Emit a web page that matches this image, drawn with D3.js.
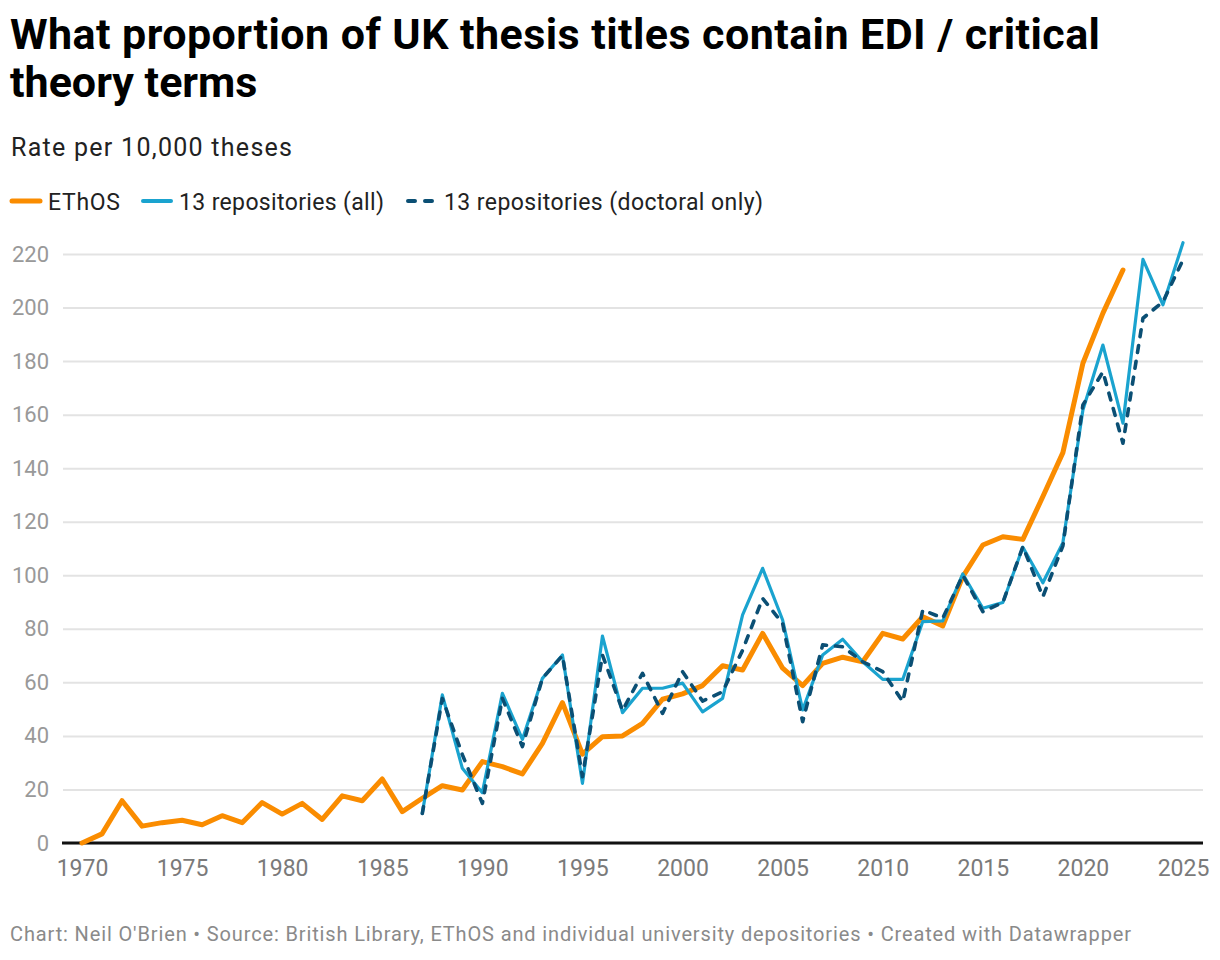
<!DOCTYPE html>
<html>
<head>
<meta charset="utf-8">
<script src="https://cdn.jsdelivr.net/npm/d3@7"></script>
<style>
  body { margin: 0; background: #fff; font-family: Roboto, "Noto Sans", sans-serif; }
  .grid line { stroke: #e3e3e3; stroke-width: 2; }
  .tick text { font-family: Roboto, sans-serif; }
  .y-axis .tick text { fill: #999; font-size: 22px; }
  .x-axis .tick text { fill: #7a7a7a; font-size: 23px; }
</style>
</head>
<body>
<div class="visHolder"></div>
<script>
var yTicks = [0, 20, 40, 60, 80, 100, 120, 140, 160, 180, 200, 220];
var xTicks = [1970, 1975, 1980, 1985, 1990, 1995, 2000, 2005, 2010, 2015, 2020, 2025];

// EThOS, 1970-2022
var ethos = [0, 3.4, 15.8, 6.3, 7.6, 8.5, 6.8, 10.2, 7.6, 15.1,
  10.8, 14.8, 8.8, 17.6, 15.8, 23.9, 11.7, 16.7, 21.4, 19.8,
  30.4, 28.5, 25.8, 37.2, 52.4, 33.2, 39.7, 40, 44.7, 53.7,
  55.7, 58.8, 66.2, 64.6, 78.3, 65.3, 58.8, 67.1, 69.4, 67.7,
  78.3, 76.2, 84.5, 81.1, 99.5, 111.3, 114.4, 113.4, 129.4, 145.8,
  179.2, 197.9, 214];
var ethosStart = 1970;

// 13 repositories, 1987-2025
var reposAll = [11.1, 55.3, 27.9, 18.8, 55.9, 38.7, 61.5, 70.2, 22.3, 77.3,
  48.7, 57.8, 57.8, 59.7, 49, 54, 85.2, 102.6, 83.3, 49.7,
  70.2, 76.1, 67.7, 61.1, 61.1, 82.7, 83, 100.5, 87.7, 89.8,
  110.5, 97.2, 112.2, 161.7, 186, 156.8, 218, 201, 224.2];
var reposDoctoral = [11, 54, 33, 14.8, 54, 36, 61.5, 70, 24.8, 70.2,
  49.5, 63.4, 48.4, 64, 53, 56.5, 72, 91.4, 82, 45.3,
  74, 73.3, 67.7, 64, 52.8, 87, 84, 100, 86.4, 89.8,
  110.7, 92, 111, 163.6, 176, 149.3, 196, 202.2, 217.8];
var reposStart = 1987;

var seriesNames = ["EThOS", "13 repositories (all)", "13 repositories (doctoral only)"];
var seriesColors = ["#fa8c00", "#1aa3cf", "#0b4f74"];

var width = 1220,
  height = 960;

var svg = d3.select(".visHolder").append("svg").attr("width", width).attr("height", height);

// stretch a text to the width it has in the original
function fitWidth(sel, w) {
  sel.each(function () {
    if (this.getComputedTextLength() < w) {
      d3.select(this).attr("textLength", w).attr("lengthAdjust", "spacing");
    }
  });
}

// header
var title = svg.append("g").attr("font-family", "Roboto, sans-serif").attr("font-weight", 700).attr("font-size", 43).attr("fill", "#000");
title.append("text").attr("x", 10).attr("y", 49).text("What proportion of UK thesis titles contain EDI / critical").call(fitWidth, 1090);
title.append("text").attr("x", 10).attr("y", 97).text("theory terms").call(fitWidth, 247);

svg.append("text").attr("x", 11).attr("y", 156).attr("font-size", 25).attr("fill", "#222")
  .text("Rate per 10,000 theses").call(fitWidth, 281);

var xScale = d3.scaleLinear().domain([1970, 2025]).range([82, 1183]);
var yScale = d3.scaleLinear().domain([0, 220]).range([843, 254]);

// legend
var legendX = [10, 141, 406];
var legendW = [72, 205, 319];
var legend = svg.selectAll(".legend-item")
  .data(seriesNames)
  .enter()
  .append("g")
  .attr("class", "legend-item")
  .attr("transform", (d, i) => "translate(" + legendX[i] + ",201)");
legend.append("line")
  .attr("x1", 2).attr("x2", 30)
  .attr("stroke", (d, i) => seriesColors[i])
  .attr("stroke-width", (d, i) => i == 0 ? 5 : 4)
  .attr("stroke-linecap", "round")
  .attr("stroke-dasharray", (d, i) => i == 2 ? "7,10" : null);
legend.append("text")
  .attr("x", 38)
  .attr("y", 9)
  .attr("font-size", 23)
  .attr("fill", "#222")
  .text(d => d)
  .each(function (d, i) { d3.select(this).call(fitWidth, legendW[i]); });

// grid + y labels
var yAxis = d3.axisLeft(yScale).tickValues(yTicks).tickSize(-(1203 - 63)).tickPadding(14);
svg.append("g")
  .attr("class", "grid y-axis")
  .attr("transform", "translate(63,0)")
  .call(yAxis)
  .call(g => g.select(".domain").remove())
  .call(g => g.selectAll(".tick text").attr("font-size", null).attr("fill", null));

// x axis labels
var xAxis = d3.axisBottom(xScale).tickValues(xTicks).tickFormat(d3.format("d")).tickSize(0).tickPadding(17);
svg.append("g")
  .attr("class", "x-axis")
  .attr("transform", "translate(0,843)")
  .call(xAxis)
  .call(g => g.select(".domain").remove())
  .call(g => g.selectAll(".tick text").attr("font-size", null).attr("fill", null));

// baseline
svg.append("line")
  .attr("x1", 62).attr("x2", 1203)
  .attr("y1", yScale(0)).attr("y2", yScale(0))
  .attr("stroke", "#111").attr("stroke-width", 3);

function toPoints(values, start) {
  return values.map((v, i) => ({ year: start + i, value: v }));
}

var line = d3.line()
  .x(d => xScale(d.year))
  .y(d => yScale(d.value));

svg.append("path")
  .datum(toPoints(ethos, ethosStart))
  .attr("fill", "none")
  .attr("stroke", seriesColors[0])
  .attr("stroke-width", 5)
  .attr("stroke-linejoin", "round")
  .attr("stroke-linecap", "round")
  .attr("d", line);

svg.append("path")
  .datum(toPoints(reposAll, reposStart))
  .attr("fill", "none")
  .attr("stroke", seriesColors[1])
  .attr("stroke-width", 3.2)
  .attr("stroke-linejoin", "round")
  .attr("stroke-linecap", "round")
  .attr("d", line);

svg.append("path")
  .datum(toPoints(reposDoctoral, reposStart))
  .attr("fill", "none")
  .attr("stroke", seriesColors[2])
  .attr("stroke-width", 3.6)
  .attr("stroke-dasharray", "7,9")
  .attr("stroke-linecap", "round")
  .attr("stroke-linejoin", "round")
  .attr("d", line);

// footer
svg.append("text")
  .attr("x", 10).attr("y", 941)
  .attr("font-size", 20)
  .attr("fill", "#8a8a8a")
  .text("Chart: Neil O'Brien \u2022 Source: British Library, EThOS and individual university depositories \u2022 Created with Datawrapper")
  .call(fitWidth, 1121);
</script>
</body>
</html>
